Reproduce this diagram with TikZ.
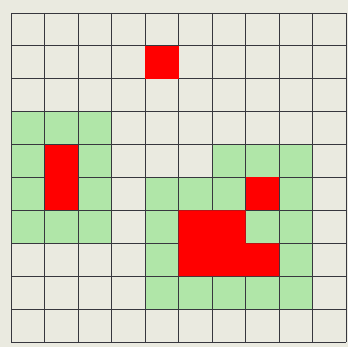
\documentclass[tikz,border=0pt]{standalone}
\definecolor{paper}{RGB}{234,234,224}
\definecolor{cellgreen}{RGB}{176,230,168}
\definecolor{gridline}{RGB}{55,55,62}
\definecolor{cellred}{RGB}{255,0,0}
\tikzset{
  gridstroke/.style={draw=gridline, line width=0.9pt},
  greencells/.style={fill=cellgreen},
  redcells/.style={fill=cellred}
}
\begin{document}
\begin{tikzpicture}[x=1pt,y=-1pt]
\fill[paper] (0,0) rectangle (348,347);
\useasboundingbox (0,0) rectangle (348,347);
\begin{scope}[shift={(11pt,-13pt)}, x=33.5pt, y=-32.9pt]
  \fill[greencells] (0,3) rectangle (3,7);
  \fill[greencells] (4,5) rectangle (9,9);
  \fill[greencells] (6,4) rectangle (9,5);
  \foreach \i in {0,...,10} {
    \draw[gridstroke] (\i,0) -- (\i,10);
    \draw[gridstroke] (0,\i) -- (10,\i);
  }
  \fill[redcells] (4,1) rectangle (5,2);
  \fill[redcells] (1,4) rectangle (2,6);
  \fill[redcells] (7,5) rectangle (8,6);
  \fill[redcells] (5,6) -- (7,6) -- (7,7) -- (8,7) -- (8,8) -- (5,8) -- cycle;
\end{scope}
\end{tikzpicture}
\end{document}
